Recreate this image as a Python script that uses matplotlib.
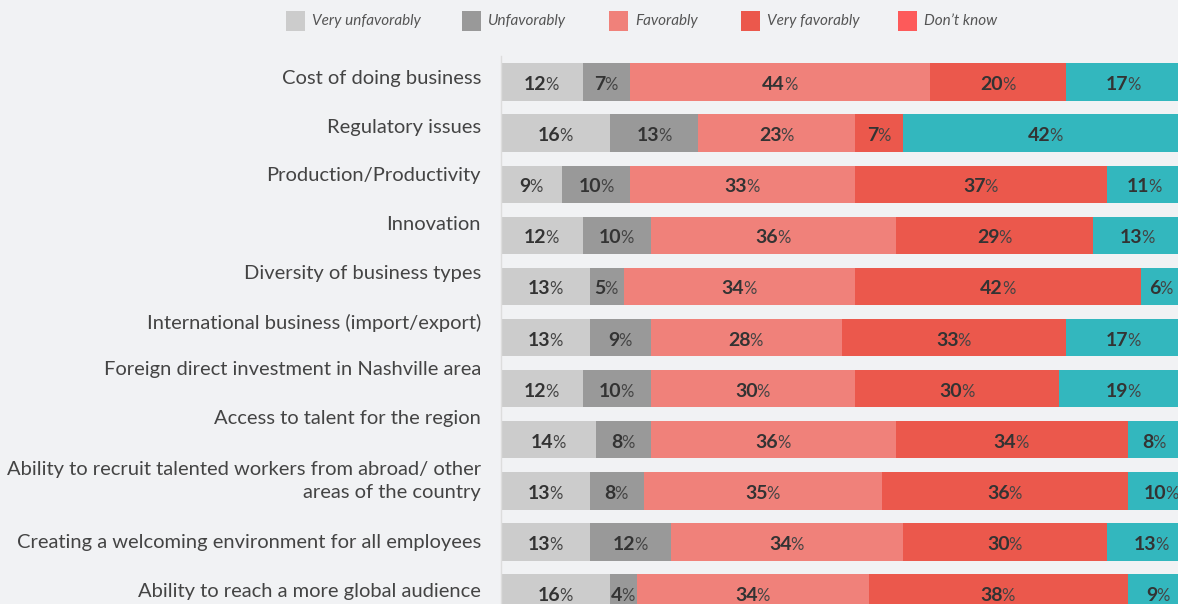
import matplotlib
matplotlib.use("Agg")
import matplotlib.pyplot as plt
from matplotlib.patches import Rectangle

# survey data (percent)
categories = [
    "Cost of doing business",
    "Regulatory issues",
    "Production/Productivity",
    "Innovation",
    "Diversity of business types",
    "International business (import/export)",
    "Foreign direct investment in Nashville area",
    "Access to talent for the region",
    "Ability to recruit talented workers from abroad/ other\nareas of the country",
    "Creating a welcoming environment for all employees",
    "Ability to reach a more global audience",
]
very_unfav = [12, 16, 9, 12, 13, 13, 12, 14, 13, 13, 16]
unfav = [7, 13, 10, 10, 5, 9, 10, 8, 8, 12, 4]
fav = [44, 23, 33, 36, 34, 28, 30, 36, 35, 34, 34]
very_fav = [20, 7, 37, 29, 42, 33, 30, 34, 36, 30, 38]
dont_know = [17, 42, 11, 13, 6, 17, 19, 8, 10, 13, 9]

series_names = ["Very unfavorably", "Unfavorably", "Favorably", "Very favorably", "Don\u2019t know"]
series = [very_unfav, unfav, fav, very_fav, dont_know]
bar_colors = ["#cccccc", "#999999", "#f0817a", "#eb584c", "#33b7be"]
legend_colors = ["#cccccc", "#999999", "#f0817a", "#eb584c", "#fd5a5a"]

# label nudges in pixels (the original labels drift a bit from bar centres)
label_nudge = [-4, -6, -9, -11, -13, -15, -19, -21, -10, 1, -2]

W, H = 1178, 604
BG = "#f1f2f4"
FONT = "Lato"

fig = plt.figure(figsize=(W / 100, H / 100), dpi=100, facecolor=BG)

# axes: x 0..100 spans px 501..1182, rows every ~51 px starting at y=82
top_px = 56.5
pitch = 51.1
n = len(categories)
ax = fig.add_axes([501 / W, 1 - (top_px + pitch * n) / H, 681 / W, pitch * n / H])
ax.set_facecolor(BG)
ax.set_xlim(0, 100)
ax.set_ylim(n - 0.5, -0.5)

left = [0] * n
for vals, col in zip(series, bar_colors):
    ax.barh(range(n), vals, left=left, height=0.73, color=col, linewidth=0)
    left = [l + v for l, v in zip(left, vals)]

for s in ["top", "right", "bottom"]:
    ax.spines[s].set_visible(False)
ax.spines["left"].set_color("#dddddd")
ax.spines["left"].set_linewidth(1)
ax.set_xticks([])
ax.set_yticks([])

# category labels
for i, cat in enumerate(categories):
    ax.annotate(cat, xy=(0, i), xytext=(-20, -label_nudge[i]), textcoords="offset pixels",
                ha="right", va="center", fontsize=14.5, color="#444444", family=FONT,
                linespacing=1.45, multialignment="right", annotation_clip=False)

# value labels: bold number + lighter percent sign
fig.canvas.draw()
renderer = fig.canvas.get_renderer()
pairs = []
left = [0] * n
for vals in series:
    for i, v in enumerate(vals):
        c = left[i] + v / 2
        t1 = ax.annotate(str(v), xy=(c, i), xytext=(0, -8), textcoords="offset pixels",
                         ha="right", va="baseline", fontsize=14, fontweight="bold",
                         color="#333333", family=FONT)
        t2 = ax.annotate("%", xy=(c, i), xytext=(0, -8), textcoords="offset pixels",
                         ha="left", va="baseline", fontsize=12, color="#444444", family=FONT)
        pairs.append((t1, t2))
    left = [l + v for l, v in zip(left, vals)]

for t1, t2 in pairs:
    w1 = t1.get_window_extent(renderer).width
    w2 = t2.get_window_extent(renderer).width
    dx = (w1 - w2) / 2
    t1.xyann = (dx, -8)
    t2.xyann = (dx - 1, -8)

# legend across the top
sq_x = [286, 462, 609, 741, 898]
for x0, name, col in zip(sq_x, series_names, legend_colors):
    fig.patches.append(Rectangle((x0 / W, 1 - 31 / H), 19 / W, 20 / H,
                                 transform=fig.transFigure, color=col, linewidth=0))
    fig.text((x0 + 26) / W, 1 - 21 / H, name, ha="left", va="center", fontsize=11,
             style="italic", color="#555555", family=FONT)

fig.savefig("out.png", dpi=100, facecolor=BG)
